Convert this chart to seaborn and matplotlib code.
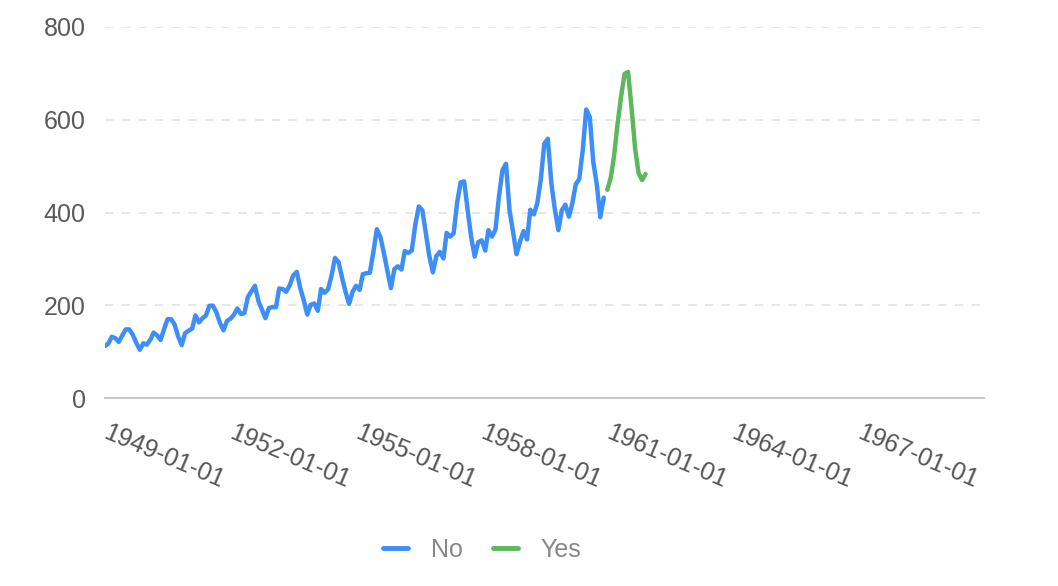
import matplotlib
matplotlib.use("Agg")
import matplotlib.pyplot as plt
import matplotlib.dates as mdates
import matplotlib.transforms as mtransforms
from matplotlib.lines import Line2D
import seaborn as sns
import pandas as pd

# ---- data ----
no_start = "1949-01-01"
no_values = [
    112, 118, 132, 129, 121, 135, 148, 148, 136, 119, 104, 118,
    115, 126, 141, 135, 125, 149, 170, 170, 158, 133, 114, 140,
    145, 150, 178, 163, 172, 178, 199, 199, 184, 162, 146, 166,
    171, 180, 193, 181, 183, 218, 230, 242, 209, 191, 172, 194,
    196, 196, 236, 235, 229, 243, 264, 272, 237, 211, 180, 201,
    204, 188, 235, 227, 234, 264, 302, 293, 259, 229, 203, 229,
    242, 233, 267, 269, 270, 315, 364, 347, 312, 274, 237, 278,
    284, 277, 317, 313, 318, 374, 413, 405, 355, 306, 271, 306,
    315, 301, 356, 348, 355, 422, 465, 467, 404, 347, 305, 336,
    340, 318, 362, 348, 363, 435, 491, 505, 404, 359, 310, 337,
    360, 342, 406, 396, 420, 472, 548, 559, 463, 407, 362, 405,
    417, 391, 419, 461, 472, 535, 622, 606, 508, 461, 390, 432,
]
yes_start = "1961-01-01"
yes_values = [449, 476, 522, 592, 650, 699, 703, 625, 537, 485, 470, 483]
series_names = ["No", "Yes"]
series_colors = ["#3E8EF7", "#5CB85C"]
tick_dates = ["1949-01-01", "1952-01-01", "1955-01-01", "1958-01-01",
              "1961-01-01", "1964-01-01", "1967-01-01"]
y_ticks = [0, 200, 400, 600, 800]

no_dates = pd.date_range(no_start, periods=len(no_values), freq="MS")
yes_dates = pd.date_range(yes_start, periods=len(yes_values), freq="MS")
df = pd.concat([
    pd.DataFrame({"date": no_dates, "value": no_values, "series": series_names[0]}),
    pd.DataFrame({"date": yes_dates, "value": yes_values, "series": series_names[1]}),
], ignore_index=True)

sns.set_theme(style="white")
plt.rcParams["font.family"] = ["Liberation Sans", "DejaVu Sans"]

fig = plt.figure(figsize=(10.58, 5.86), dpi=100)
ax = fig.add_axes([105 / 1058, 1 - 398 / 586, (984 - 105) / 1058, (398 - 27) / 586])

sns.lineplot(data=df, x="date", y="value", hue="series",
             palette=dict(zip(series_names, series_colors)),
             linewidth=3.2, ax=ax, legend=False)

ax.set_xlim(pd.Timestamp("1949-01-01"), pd.Timestamp("1970-01-01"))
ax.set_ylim(0, 800)
ax.set_yticks(y_ticks)
ax.set_xticks([pd.Timestamp(d) for d in tick_dates])
ax.xaxis.set_major_formatter(mdates.DateFormatter("%Y-%m-%d"))
ax.set_xlabel("")
ax.set_ylabel("")

for s in ["top", "right", "left"]:
    ax.spines[s].set_visible(False)
ax.spines["bottom"].set_color("#C8C8C8")
ax.spines["bottom"].set_linewidth(1.5)

ax.yaxis.grid(True, color="#E3E3E3", linestyle=(0, (5, 5)), linewidth=1.2)
ax.set_axisbelow(True)
for gl, t in zip(ax.yaxis.get_gridlines(), y_ticks):
    if t == 0:
        gl.set_visible(False)

ax.tick_params(axis="y", length=0, pad=14, labelsize=18, labelcolor="#5A5A5A")
ax.tick_params(axis="x", direction="out", length=8, width=1.5, color="#C8C8C8",
               pad=8, labelsize=18, labelcolor="#555555")
offset = mtransforms.ScaledTranslation(5 / 100, 0, fig.dpi_scale_trans)
for lbl in ax.get_xticklabels():
    lbl.set_rotation(-23)
    lbl.set_ha("left")
    lbl.set_va("top")
    lbl.set_rotation_mode("anchor")
    lbl.set_transform(lbl.get_transform() + offset)

handles = [Line2D([], [], color=c, linewidth=3.5) for c in series_colors]
leg = fig.legend(handles, series_names, loc="center", ncol=2,
                 bbox_to_anchor=(482 / 1058, 1 - 550 / 586), frameon=False,
                 fontsize=18, handlelength=1.0, handletextpad=0.9,
                 columnspacing=1.2, labelcolor="#888888")

fig.savefig("out.png", dpi=100)
